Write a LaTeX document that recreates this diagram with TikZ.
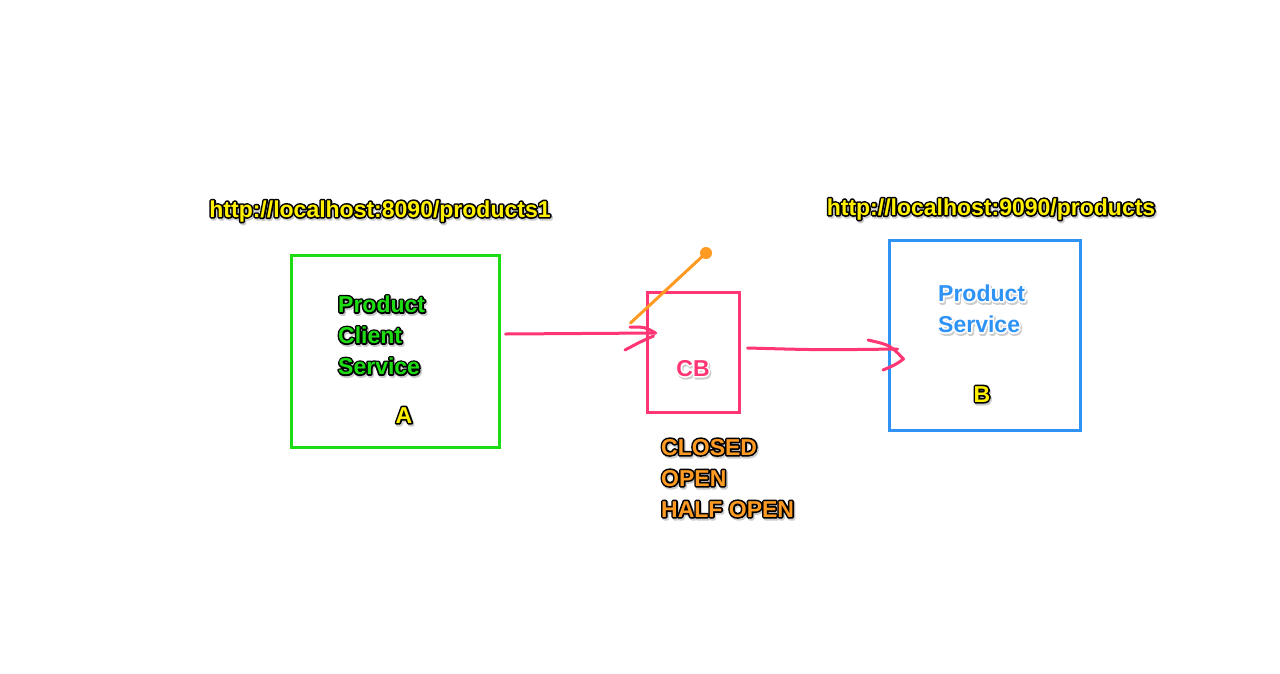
\documentclass[tikz,border=0pt]{standalone}
\usepackage{fontspec}
\setmainfont{Liberation Sans}
\usetikzlibrary{positioning}

\definecolor{cgreen}{HTML}{1EDC14}
\definecolor{cyellow}{HTML}{FFF000}
\definecolor{cpink}{HTML}{FF3574}
\definecolor{corange}{HTML}{FF9A22}
\definecolor{cblue}{HTML}{2E93F5}

% outlined label: fill colour, stroke colour as rgb triple, text
\newcommand{\strk}[3]{\special{pdf:literal direct #1 RG 1 Tr #2 w 1 j}#3\special{pdf:literal direct 0 Tr}}
\newcommand{\outl}[3]{%
  \makebox[0pt][l]{\hspace{1.2pt}\raisebox{-1.8pt}{\strk{0.8 0.8 0.8}{3.4}{#3}}}%
  \makebox[0pt][l]{\strk{#2}{3.2}{#3}}%
  \textcolor{#1}{#3}}

\tikzset{
  box/.style={draw=#1, line width=3pt, minimum width=0pt, inner sep=0pt},
  label/.style={font=\fontsize{23}{31}\selectfont\bfseries, inner sep=0pt, align=left},
  wire/.style={draw=cpink, line width=3pt, line cap=round},
}

\begin{document}
\begin{tikzpicture}[x=1pt,y=-1pt]
  \useasboundingbox[fill=white] (0,0) rectangle (1280,673);

  % boxes
  \node[box=cgreen, minimum width=208pt, minimum height=192pt] (client) at (395,351) {};
  \node[box=cpink, minimum width=92pt, minimum height=120pt] (cb) at (693,352) {};
  \node[box=cblue, minimum width=191pt, minimum height=190pt] (service) at (984.5,335) {};

  % urls
  \node[label] (urla) at (380,212) {\outl{cyellow}{0 0 0}{http://localhost:8090/products1}};
  \node[label] (urlb) at (991,210) {\outl{cyellow}{0 0 0}{http://localhost:9090/products}};

  % box texts
  \node[label, anchor=west] (clienttxt) at (338,336)
    {\outl{cgreen}{0 0 0}{Product}\\\outl{cgreen}{0 0 0}{Client}\\\outl{cgreen}{0 0 0}{Service}};
  \node[label] (lbla) at (404,416) {\outl{cyellow}{0 0 0}{A}};
  \node[label] (cbtxt) at (693,369) {\outl{cpink}{1 1 1}{CB}};
  \node[label, anchor=west] (servicetxt) at (938,309.5)
    {\outl{cblue}{1 1 1}{Product}\\\outl{cblue}{1 1 1}{Service}};
  \node[label] (lblb) at (982,395) {\outl{cyellow}{0 0 0}{B}};
  \node[label, anchor=west] (states) at (661,479)
    {\outl{corange}{0 0 0}{CLOSED}\\\outl{corange}{0 0 0}{OPEN}\\\outl{corange}{0 0 0}{HALF OPEN}};

  % switch on the breaker
  \coordinate (pivot) at ([shift={(-15,-29)}]cb.west);
  \coordinate (knob) at (706,253);
  \draw[corange, line width=3pt, line cap=round] (pivot) -- (knob);
  \fill[corange] (knob) circle (6pt);

  % client -> breaker
  \coordinate (tipa) at ([shift={(10,-19)}]cb.west);
  \draw[wire] ([shift={(5,-17)}]client.east) -- (tipa);
  \draw[wire] (630,327) .. controls (645,327) .. (tipa);
  \draw[wire] (625,350) .. controls (640,342) .. ([shift={(-2,3)}]tipa);

  % breaker -> service
  \coordinate (tipb) at ([shift={(16,24)}]service.west);
  \draw[wire] ([shift={(7,-4)}]cb.east) .. controls (820,350) .. ([shift={(-6,-10)}]tipb);
  \draw[wire] (868,340) .. controls (890,345) .. (tipb);
  \draw[wire] (883,370) .. controls (895,365) .. (tipb);
\end{tikzpicture}
\end{document}
